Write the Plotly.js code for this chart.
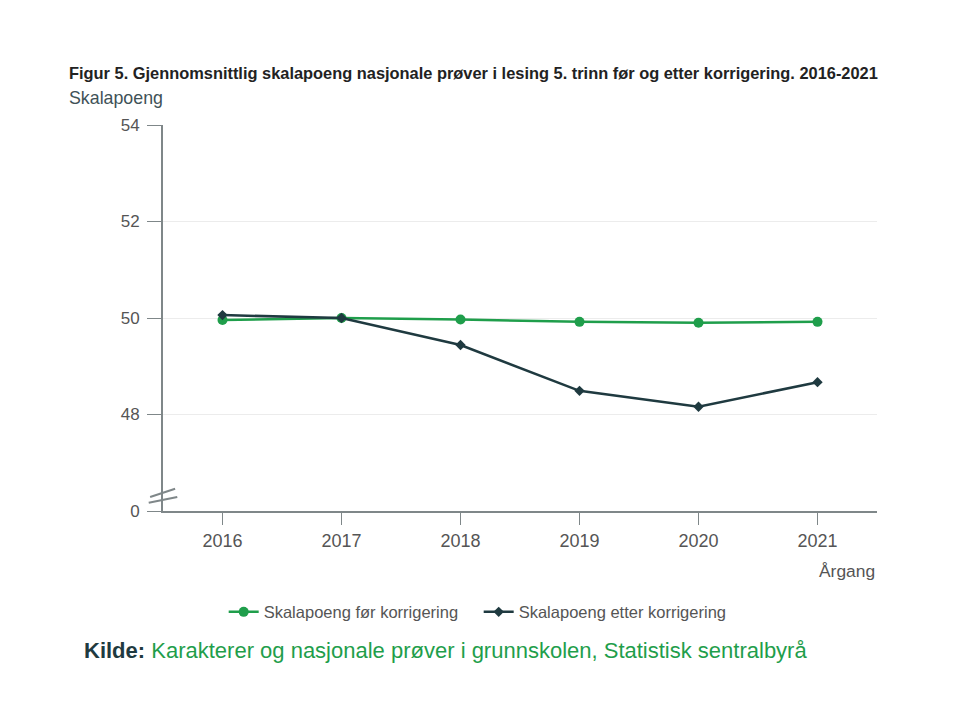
<!DOCTYPE html>
<html>
<head>
<meta charset="utf-8">
<script src="https://cdn.plot.ly/plotly-3.0.1.min.js"></script>
<style>
  html, body { margin: 0; padding: 0; background: #fff; }
  #chart { width: 960px; height: 720px; }
</style>
</head>
<body>
<div id="chart"></div>
<script>
// Årgang (school years)
const years = [2016, 2017, 2018, 2019, 2020, 2021];
// Average scale points, 5th grade reading, before and after correction
const forKorrigering = [49.96, 50.0, 49.97, 49.92, 49.9, 49.92];
const etterKorrigering = [50.06, 50.0, 49.44, 48.49, 48.16, 48.67];

// Y axis: broken axis, the lowest tick stands for 0
const yTickVals = [46, 48, 50, 52, 54];
const yTickText = ['0', '48', '50', '52', '54'];

const green = '#1f9e4b';
const dark = '#1f3a40';
const axisGrey = '#7f8789';

const traces = [
  {
    x: years, y: forKorrigering, name: 'Skalapoeng før korrigering',
    type: 'scatter', mode: 'lines+markers',
    line: { color: green, width: 2.5 },
    marker: { color: green, size: 10, symbol: 'circle' }
  },
  {
    x: years, y: etterKorrigering, name: 'Skalapoeng etter korrigering',
    type: 'scatter', mode: 'lines+markers',
    line: { color: dark, width: 2.5 },
    marker: { color: dark, size: 8, symbol: 'diamond' }
  }
];

const layout = {
  width: 960, height: 720,
  margin: { l: 163, r: 83, t: 125, b: 209 },
  paper_bgcolor: '#fff', plot_bgcolor: '#fff',
  font: { family: 'Liberation Sans, Arial, sans-serif', color: '#555', size: 17 },
  showlegend: true,
  legend: {
    orientation: 'h', x: 0.085, xanchor: 'left', y: -0.262, yanchor: 'middle',
    font: { size: 16.5, color: '#555' }, traceorder: 'normal', itemwidth: 30,
    entrywidth: 210, entrywidthmode: 'pixels'
  },
  xaxis: {
    range: [2015.5, 2021.5], tickvals: years, ticktext: years.map(String),
    showgrid: false, zeroline: false, showline: true, linecolor: axisGrey, linewidth: 2,
    ticks: 'outside', ticklen: 12, tickcolor: axisGrey, tickwidth: 1,
    tickfont: { size: 18, color: '#555' }, fixedrange: true
  },
  yaxis: {
    range: [46, 54], tickvals: yTickVals, ticktext: yTickText,
    showgrid: true, gridcolor: '#ececec', gridwidth: 1, zeroline: false,
    showline: true, linecolor: axisGrey, linewidth: 2,
    ticks: 'outside', ticklen: 14, tickcolor: axisGrey, tickwidth: 1,
    ticklabelstandoff: 4,
    tickfont: { size: 17, color: '#555' }, fixedrange: true
  },
  shapes: [
    // axis break marks
    { type: 'line', xref: 'paper', yref: 'y', x0: -0.018, x1: 0.017, y0: 46.29, y1: 46.46,
      line: { color: axisGrey, width: 2 } },
    { type: 'line', xref: 'paper', yref: 'y', x0: -0.02, x1: 0.02, y0: 46.17, y1: 46.29,
      line: { color: axisGrey, width: 2 } }
  ],
  annotations: [
    { xref: 'paper', yref: 'paper', x: -0.134, y: 1.135, xanchor: 'left', yanchor: 'middle',
      showarrow: false, align: 'left',
      text: '<b>Figur 5. Gjennomsnittlig skalapoeng nasjonale prøver i lesing 5. trinn før og etter korrigering. 2016-2021</b>',
      font: { size: 16.4, color: '#222' } },
    { xref: 'paper', yref: 'paper', x: -0.134, y: 1.07, xanchor: 'left', yanchor: 'middle',
      showarrow: false, text: 'Skalapoeng', font: { size: 17.8, color: '#3f5257' } },
    { xref: 'paper', yref: 'paper', x: 1.0, y: -0.155, xanchor: 'right', yanchor: 'middle',
      showarrow: false, text: 'Årgang', font: { size: 17.4, color: '#555' } },
    { xref: 'paper', yref: 'paper', x: -0.113, y: -0.362, xanchor: 'left', yanchor: 'middle',
      showarrow: false,
      text: '<b><span style="color:' + dark + '">Kilde:</span></b> <span style="color:' + green + '">Karakterer og nasjonale prøver i grunnskolen, Statistisk sentralbyrå</span>',
      font: { size: 22 } }
  ]
};

Plotly.newPlot('chart', traces, layout, { displayModeBar: false, staticPlot: true });
</script>
</body>
</html>
